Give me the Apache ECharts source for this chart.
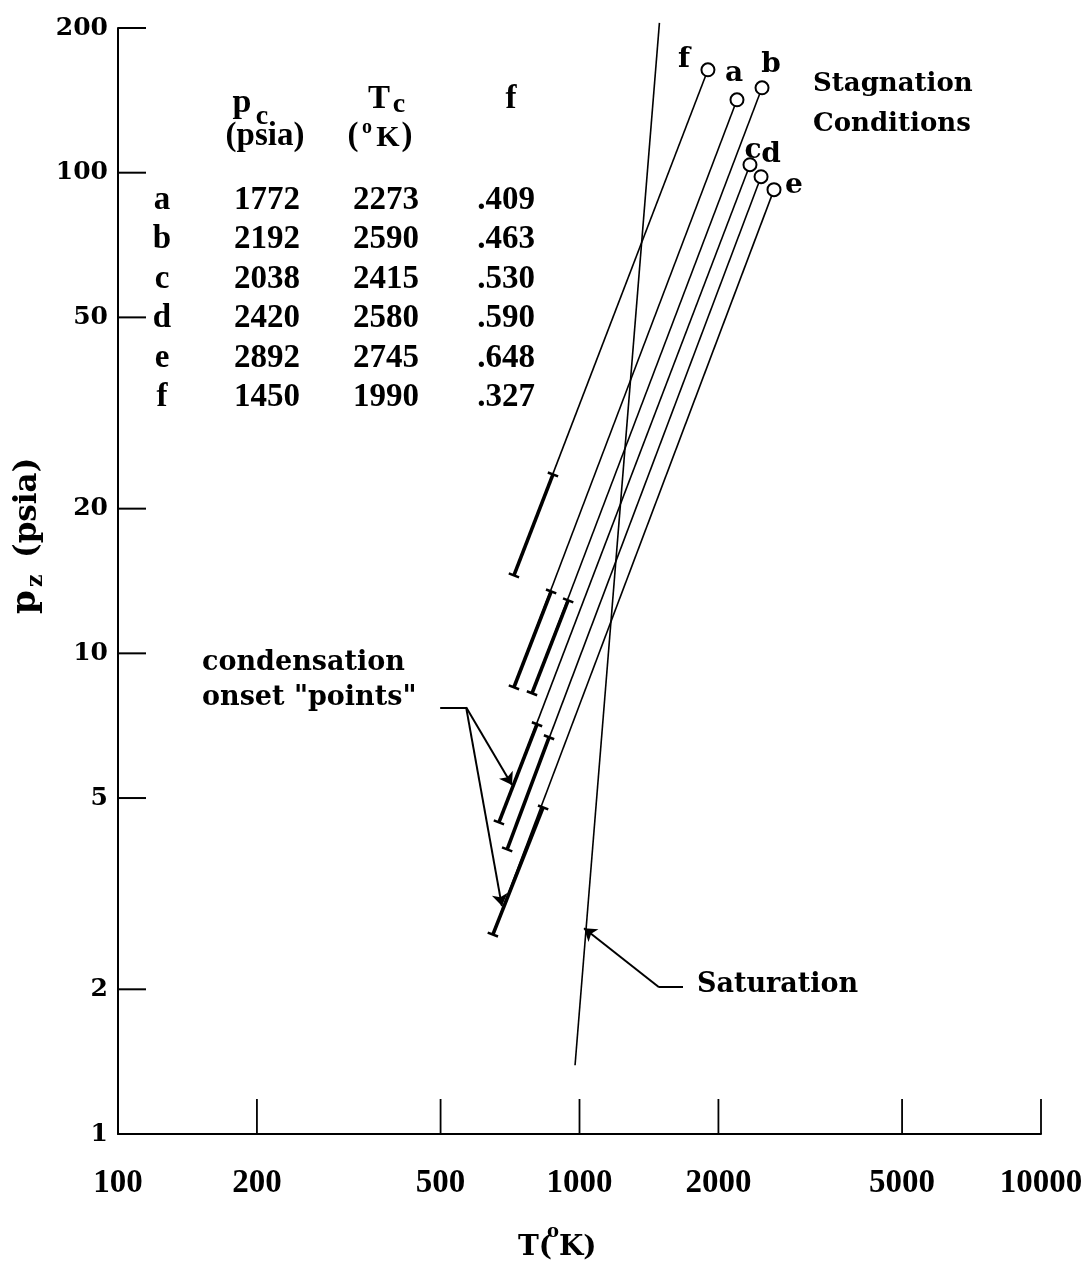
<!DOCTYPE html>
<html>
<head>
<meta charset="utf-8">
<script src="https://cdn.jsdelivr.net/npm/echarts@6/dist/echarts.min.js"></script>
<style>
html, body { margin: 0; padding: 0; background: #fff; }
#main { width: 1086px; height: 1271px; }
</style>
</head>
<body>
<div id="main"></div>
<script>
// tick values of the two log axes
const xTicks = [100, 200, 500, 1000, 2000, 5000, 10000];
const yTicks = [1, 2, 5, 10, 20, 50, 100, 200];

// curves a..f : stagnation point (circle), onset (top of heavy part), lower end
const curveNames = ['a', 'b', 'c', 'd', 'e', 'f'];
const stagT = [2194, 2486, 2341, 2474, 2639, 1898];
const stagP = [141.8, 150.2, 103.9, 98.1, 92.2, 163.7];
const onsetT = [868, 945, 809, 859, 834, 876];
const onsetP = [13.45, 12.89, 7.12, 6.69, 4.78, 23.56];
const endT = [721, 789, 669, 697, 649, 721];
const endP = [8.50, 8.26, 4.45, 3.91, 2.60, 14.53];

// saturation line
const satT = [978, 1490];
const satP = [1.39, 205];

// table of chamber conditions
const tablePc = [1772, 2192, 2038, 2420, 2892, 1450];
const tableTc = [2273, 2590, 2415, 2580, 2745, 1990];
const tableF = ['.409', '.463', '.530', '.590', '.648', '.327'];

// leader lines (T, p): plain parts and arrow parts
const leadPlain = [
  [[499, 7.72], [568, 7.72]],
  [[1676, 2.02], [1487, 2.02]]
];
const leadArrow = [
  [[568, 7.72], [714, 5.32]],
  [[568, 7.72], [679, 2.98]],
  [[1487, 2.02], [1023, 2.68]]
];

// label offsets of circle letters (px)
const circleLabelOffset = [[-3, -26], [9, -23], [3, -14], [10, -22], [20, -4], [-24, -10]];

const FONT_Y = 'bold 25px "DejaVu Serif"';
const FONT_X = 'bold 33px "Liberation Serif"';
const FONT_TAB = 'bold 33px "Liberation Serif"';
const FONT_NOTE = 'bold 26px "DejaVu Serif"';

function txt(s, x, y, font, align) {
  align = align || 'center';
  return {
    type: 'text', x: x, y: y, silent: true,
    style: { text: s, font: font, fill: '#000', align: align, verticalAlign: 'middle',
      textAlign: align, textVerticalAlign: 'middle' }
  };
}

let myChart = echarts.init(document.getElementById('main'));

const series = [];
curveNames.forEach(function (n, i) {
  series.push({
    type: 'line', name: n, silent: true, z: 2, showSymbol: false,
    data: [[endT[i], endP[i]], [stagT[i], stagP[i]]],
    lineStyle: { color: '#000', width: 1.6 }
  });
  series.push({
    type: 'line', silent: true, z: 3, showSymbol: false,
    data: [[endT[i], endP[i]], [onsetT[i], onsetP[i]]],
    lineStyle: { color: '#000', width: 3.6 }
  });
});

// little cross marks at both ends of the heavy parts
series.push({
  type: 'scatter', silent: true, z: 4,
  symbol: 'rect', symbolSize: [11, 2.5], symbolRotate: -21,
  itemStyle: { color: '#000', opacity: 1 },
  data: endT.map((t, i) => [t, endP[i]]).concat(onsetT.map((t, i) => [t, onsetP[i]]))
});

// stagnation circles
series.push({
  type: 'scatter', silent: true, z: 6,
  symbol: 'circle', symbolSize: 13,
  itemStyle: { color: '#fff', borderColor: '#000', borderWidth: 2, opacity: 1 },
  label: {
    show: true, position: 'inside', formatter: '{b}',
    fontSize: 28, fontWeight: 'bold', fontFamily: 'DejaVu Serif',
    color: '#000', align: 'center', verticalAlign: 'middle'
  },
  data: curveNames.map((n, i) => ({
    name: n, value: [stagT[i], stagP[i]],
    label: { offset: circleLabelOffset[i] }
  }))
});

// saturation
series.push({
  type: 'line', silent: true, z: 2, clip: false, showSymbol: false,
  data: satT.map((t, i) => [t, satP[i]]),
  lineStyle: { color: '#000', width: 1.6 }
});

// leaders
series.push({
  type: 'lines', coordinateSystem: 'cartesian2d', silent: true, z: 5,
  symbol: 'none',
  lineStyle: { color: '#000', width: 2, opacity: 1 },
  data: leadPlain.map(c => ({ coords: c }))
});
series.push({
  type: 'lines', coordinateSystem: 'cartesian2d', silent: true, z: 5,
  symbol: ['none', 'arrow'], symbolSize: 12,
  lineStyle: { color: '#000', width: 2, opacity: 1 },
  itemStyle: { color: '#000' },
  data: leadArrow.map(c => ({ coords: c }))
});

// axis ticks + labels
series.push({
  type: 'custom', silent: true, clip: false, z: 5,
  data: yTicks.map(v => [100, v]),
  renderItem: function (params, api) {
    const v = api.value(1);
    const pt = api.coord([100, v]);
    const children = [{
      type: 'text',
      style: { text: String(v), x: pt[0] - 10, y: pt[1], font: FONT_Y, fill: '#000',
        align: 'right', verticalAlign: 'middle', textAlign: 'right', textVerticalAlign: 'middle' }
    }];
    if (v !== yTicks[0]) {
      children.push({ type: 'line', shape: { x1: pt[0], y1: pt[1], x2: pt[0] + 28, y2: pt[1] },
        style: { stroke: '#000', lineWidth: 2 } });
    }
    return { type: 'group', children: children };
  }
});
series.push({
  type: 'custom', silent: true, clip: false, z: 5,
  data: xTicks.map(v => [v, 1]),
  renderItem: function (params, api) {
    const v = api.value(0);
    const pt = api.coord([v, 1]);
    const children = [{
      type: 'text',
      style: { text: String(v), x: pt[0], y: pt[1] + 49, font: FONT_X, fill: '#000',
        align: 'center', verticalAlign: 'middle', textAlign: 'center', textVerticalAlign: 'middle' }
    }];
    if (v !== xTicks[0]) {
      children.push({ type: 'line', shape: { x1: pt[0], y1: pt[1], x2: pt[0], y2: pt[1] - 35 },
        style: { stroke: '#000', lineWidth: 1.8 } });
    }
    return { type: 'group', children: children };
  }
});

// texts: table, notes, axis titles
const graphics = [];
graphics.push(txt('p', 242, 103, 'bold 34px "Liberation Serif"'));
graphics.push(txt('c', 262, 117, 'bold 28px "Liberation Serif"'));
graphics.push(txt('(psia)', 265, 136, FONT_TAB));
graphics.push(txt('T', 379, 99, FONT_TAB));
graphics.push(txt('c', 399, 105, 'bold 28px "Liberation Serif"'));
graphics.push(txt('(', 353, 136, FONT_TAB));
graphics.push(txt('o', 367, 128, 'bold 20px "Liberation Serif"'));
graphics.push(txt('K', 388, 138, 'bold 30px "Liberation Serif"'));
graphics.push(txt(')', 407, 136, FONT_TAB));
graphics.push(txt('f', 511, 99, FONT_TAB));
curveNames.forEach(function (n, i) {
  const y = 200 + 39.5 * i;
  graphics.push(txt(n, 162, y, FONT_TAB));
  graphics.push(txt(String(tablePc[i]), 267, y, FONT_TAB));
  graphics.push(txt(String(tableTc[i]), 386, y, FONT_TAB));
  graphics.push(txt(tableF[i], 506, y, FONT_TAB));
});
graphics.push(txt('Stagnation', 813, 84, FONT_NOTE, 'left'));
graphics.push(txt('Conditions', 813, 124, FONT_NOTE, 'left'));
graphics.push(txt('condensation', 202, 663, 'bold 27px "DejaVu Serif"', 'left'));
graphics.push(txt('onset "points"', 202, 698, 'bold 27px "DejaVu Serif"', 'left'));
graphics.push(txt('Saturation', 697, 985, 'bold 27px "DejaVu Serif"', 'left'));

// x axis title T(oK)
graphics.push(txt('T(', 518, 1248, 'bold 28px "DejaVu Serif"', 'left'));
graphics.push(txt('o', 553, 1232, 'bold 18px "DejaVu Serif"'));
graphics.push(txt('K)', 559, 1248, 'bold 28px "DejaVu Serif"', 'left'));

// y axis title p_z (psia), rotated
graphics.push({
  type: 'group', x: 38, y: 614, rotation: Math.PI / 2, silent: true,
  children: [
    txt('p', 0, -12, 'bold 34px "DejaVu Serif"', 'left'),
    txt('z', 27, -2, 'bold 22px "DejaVu Serif"', 'left'),
    txt('(psia)', 56, -10, 'bold 31px "DejaVu Serif"', 'left')
  ]
});

const option = {
  animation: false,
  backgroundColor: '#fff',
  grid: { left: 118, right: 45, top: 28, bottom: 137, containLabel: false },
  xAxis: {
    type: 'log', logBase: 10, min: 100, max: 10000,
    axisLine: { show: true, lineStyle: { color: '#000', width: 2 } },
    axisTick: { show: false }, axisLabel: { show: false }, splitLine: { show: false }
  },
  yAxis: {
    type: 'log', logBase: 10, min: 1, max: 200,
    axisLine: { show: true, lineStyle: { color: '#000', width: 2 } },
    axisTick: { show: false }, axisLabel: { show: false }, splitLine: { show: false }
  },
  graphic: graphics,
  series: series
};

myChart.setOption(option);
</script>
</body>
</html>
